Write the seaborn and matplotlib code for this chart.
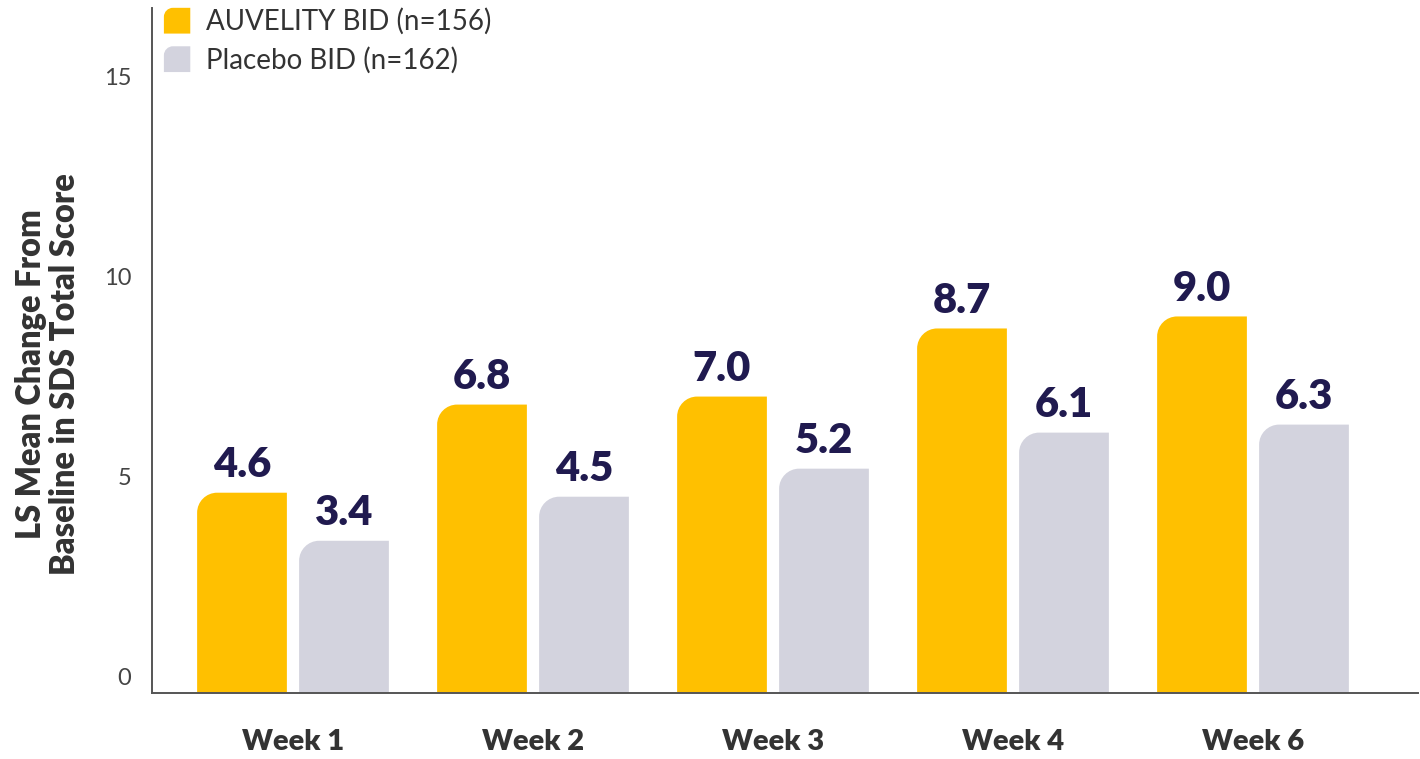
import numpy as np
import pandas as pd
import matplotlib
matplotlib.use("Agg")
import matplotlib.pyplot as plt
import seaborn as sns
from matplotlib.path import Path
from matplotlib.patches import PathPatch, Rectangle
from matplotlib.legend_handler import HandlerPatch

weeks = ["Week 1", "Week 2", "Week 3", "Week 4", "Week 6"]
auvelity = [4.6, 6.8, 7.0, 8.7, 9.0]
placebo = [3.4, 4.5, 5.2, 6.1, 6.3]
groups = ["AUVELITY BID (n=156)", "Placebo BID (n=162)"]
colors = ["#FFC000", "#D3D3DE"]

df = pd.DataFrame({
    "week": weeks * 2,
    "change": auvelity + placebo,
    "group": [groups[0]] * len(weeks) + [groups[1]] * len(weeks),
})

sns.set_style("white")
plt.rcParams["font.family"] = ["Lato", "DejaVu Sans"]

fig = plt.figure(figsize=(14.2, 7.59), dpi=100)
ax = fig.add_axes([152 / 1420, 1 - 693 / 759, 1266 / 1420, 685 / 759])

sns.barplot(data=df, x="week", y="change", hue="group", palette=colors,
            width=0.85, gap=0.12, saturation=1, errorbar=None, ax=ax)

ax.set_ylim(-0.4, 16.7)
ax.set_xlim(-0.5875, 4.6875)
ax.set_yticks([0, 5, 10, 15])

for c in ax.containers:
    ax.bar_label(c, fmt="%.1f", padding=6, fontsize=30, fontweight="heavy",
                 color="#201A4F")


def corner_path(x0, y0, w, h, rx, ry):
    k = 0.5523
    x1, y1 = x0 + w, y0 + h
    verts = [(x0, y0), (x1, y0), (x1, y1), (x0 + rx, y1),
             (x0 + rx * (1 - k), y1), (x0, y1 - ry * (1 - k)), (x0, y1 - ry),
             (x0, y0)]
    codes = [Path.MOVETO, Path.LINETO, Path.LINETO, Path.LINETO,
             Path.CURVE4, Path.CURVE4, Path.CURVE4, Path.CLOSEPOLY]
    return Path(verts, codes)


# round the top-left corner of every bar (radius ~20 px)
xr = ax.get_xlim()[1] - ax.get_xlim()[0]
yr = ax.get_ylim()[1] - ax.get_ylim()[0]
rx = 20 * xr / 1266
ry = 20 * yr / 685
ybot = ax.get_ylim()[0]
for c in ax.containers:
    for bar in c:
        x0, w = bar.get_x(), bar.get_width()
        top = bar.get_y() + bar.get_height()
        bar.set_visible(False)
        ax.add_patch(PathPatch(corner_path(x0, ybot, w, top - ybot, rx, ry),
                               facecolor=bar.get_facecolor(), edgecolor="none",
                               zorder=2))


class RoundHandler(HandlerPatch):
    def create_artists(self, legend, orig_handle, xdescent, ydescent, width,
                       height, fontsize, trans):
        r = height * 0.35
        p = PathPatch(corner_path(-xdescent, -ydescent, width, height, r, r),
                      facecolor=orig_handle.get_facecolor(), edgecolor="none",
                      transform=trans)
        return [p]


handles, labels = ax.get_legend_handles_labels()
ax.legend(handles, labels, handler_map={Rectangle: RoundHandler()},
          loc="upper left", bbox_to_anchor=(150 / 1420, 1.008),
          bbox_transform=fig.transFigure, frameon=False, fontsize=20,
          handlelength=0.95, handleheight=1.05, handletextpad=0.55,
          labelspacing=0.4, labelcolor="#333333", borderaxespad=0.1)

ax.set_xlabel("")
ax.set_ylabel("LS Mean Change From\nBaseline in SDS Total Score",
              fontsize=23.5, fontweight="heavy", color="#333333", linespacing=1.1)
ax.yaxis.set_label_coords(-0.056, 0.465)

ax.tick_params(axis="x", length=0, pad=26, labelsize=21, labelcolor="#333333")
for t in ax.get_xticklabels():
    t.set_fontweight("heavy")
ax.tick_params(axis="y", length=0, pad=15, labelsize=17, labelcolor="#444444")

sns.despine(ax=ax)
for s in ["left", "bottom"]:
    ax.spines[s].set_color("#555555")
    ax.spines[s].set_linewidth(1.4)

fig.savefig("out.png", dpi=100)
